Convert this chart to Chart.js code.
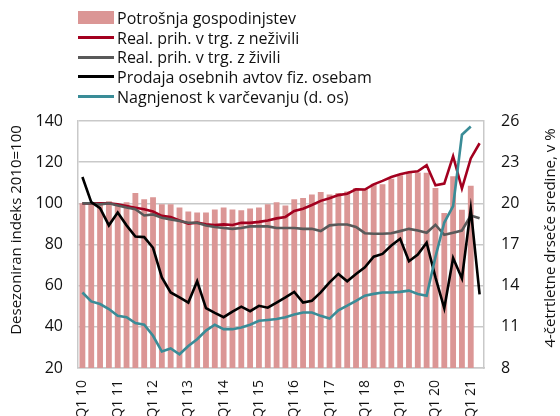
<!DOCTYPE html>
<html>
<head>
<meta charset="utf-8">
<script src="https://cdn.jsdelivr.net/npm/chart.js@4"></script>
<style>
  body { margin: 0; background: #fff; }
  #wrap { position: relative; width: 560px; height: 416px; }
  #legend { position: absolute; left: 78px; top: 8px; font-family: "Open Sans", sans-serif; font-size: 16px; color: #111; }
  .row { display: flex; align-items: center; height: 19.7px; white-space: nowrap; }
  .sym { display: inline-block; width: 36px; margin-right: 3px; }
</style>
</head>
<body>
<div id="wrap">
  <canvas id="c" width="560" height="416"></canvas>
  <div id="legend"></div>
</div>
<script>
const quarters = [
  "Q1 10", "Q2 10", "Q3 10", "Q4 10", "Q1 11", "Q2 11", "Q3 11", "Q4 11",
  "Q1 12", "Q2 12", "Q3 12", "Q4 12", "Q1 13", "Q2 13", "Q3 13", "Q4 13",
  "Q1 14", "Q2 14", "Q3 14", "Q4 14", "Q1 15", "Q2 15", "Q3 15", "Q4 15",
  "Q1 16", "Q2 16", "Q3 16", "Q4 16", "Q1 17", "Q2 17", "Q3 17", "Q4 17",
  "Q1 18", "Q2 18", "Q3 18", "Q4 18", "Q1 19", "Q2 19", "Q3 19", "Q4 19",
  "Q1 20", "Q2 20", "Q3 20", "Q4 20", "Q1 21", "Q2 21"
];

// potrosnja gospodinjstev (bars, left axis)
const potrosnja = [
  100, 100, 100, 101, 99.5, 100.5, 105, 102, 103, 99.5, 99.5, 98,
  96, 95.5, 95.5, 97, 98, 97, 96.6, 97.5, 98, 99.5, 100.5, 99,
  102, 102.6, 104.3, 105.5, 104.3, 105, 105.8, 107.5, 107, 109.5, 109.3, 112,
  113.7, 114.8, 115, 114.8, 107.5, 95.3, 113.2, 96.9, 108.5, null
];

const neZivila = [
  100, 100, 100, 100, 99.5, 98.7, 97.9, 97.1, 96, 93.9, 93.4, 91.7,
  90.1, 90.6, 89.8, 89.5, 89.8, 89.5, 90.6, 90.5, 91, 91.7, 92.7, 93.4,
  96.3, 97.4, 99.2, 101.2, 102.5, 104, 104.7, 106.8, 106.7, 109.2, 110.9, 112.8,
  114.1, 115.1, 115.6, 118.5, 108.8, 109.6, 122.9, 107.2, 121.8, 129.2
];

const zivila = [
  100, 100, 99.5, 100, 99, 98, 97.1, 94.1, 94.6, 93, 92.2, 91.4,
  90.6, 90.6, 89.2, 88.5, 88, 87.6, 88, 88.8, 88.8, 88.8, 88, 88,
  88, 87.6, 87.6, 86.5, 89.3, 89.7, 89.7, 88.5, 85.5, 85.2, 85.2, 85.5,
  86.5, 87.6, 86.8, 85.7, 89.6, 84.7, 85.7, 86.8, 94.1, 92.8
];

const avti = [
  112.8, 100.6, 97.7, 89.3, 95.5, 89.3, 83.9, 83.6, 78.4, 64, 56.7, 54.3,
  51.8, 62.1, 49.1, 46.8, 44.7, 47.4, 49.8, 47.6, 50.2, 49.3, 51.8, 54.3,
  57, 51.8, 52.7, 56.7, 61.6, 65.7, 62.1, 65.7, 68.9, 74.1, 75.4, 79.5,
  82.8, 71.9, 75.1, 80.9, 64, 49, 73.4, 63.5, 97.3, 55.8
];

// right axis, %
const varcevanje = [
  13.5, 12.85, 12.66, 12.3, 11.8, 11.7, 11.27, 11.15, 10.35, 9.2, 9.42, 9.0,
  9.6, 10.1, 10.73, 11.15, 10.83, 10.83, 10.95, 11.15, 11.44, 11.5, 11.57, 11.7,
  11.9, 12.05, 12.05, 11.8, 11.6, 12.2, 12.54, 12.9, 13.27, 13.4, 13.5, 13.5,
  13.55, 13.64, 13.4, 13.27, 16.1, 18.6, 19.8, 25.0, 25.6, null
];

const FONT = "'Open Sans', sans-serif";
const GRID = "#c9c9c9";

const legendItems = [
  { label: "Potrošnja gospodinjstev", color: "#db9695", bar: true },
  { label: "Real. prih. v trg. z neživili", color: "#a3001f" },
  { label: "Real. prih. v trg. z živili", color: "#595959" },
  { label: "Prodaja osebnih avtov fiz. osebam", color: "#000000" },
  { label: "Nagnjenost k varčevanju (d. os)", color: "#3a8c97" }
];

function buildLegend() {
  const box = document.getElementById("legend");
  legendItems.forEach((it) => {
    const row = document.createElement("div");
    row.className = "row";
    const sym = document.createElement("span");
    sym.className = "sym";
    sym.style.background = it.color;
    sym.style.height = it.bar ? "13px" : "3px";
    row.appendChild(sym);
    row.appendChild(document.createTextNode(it.label));
    box.appendChild(row);
  });
}

// axis titles, both read bottom to top
const axisTitles = {
  id: "axisTitles",
  afterDraw(chart) {
    const ctx = chart.ctx;
    ctx.save();
    ctx.fillStyle = "#111";
    ctx.font = "15px " + FONT;
    ctx.textAlign = "center";
    ctx.textBaseline = "middle";
    ctx.translate(17, 230);
    ctx.rotate(-Math.PI / 2);
    ctx.fillText("Desezoniran indeks 2010=100", 0, 0);
    ctx.restore();
    ctx.save();
    ctx.fillStyle = "#111";
    ctx.font = "15px " + FONT;
    ctx.textAlign = "center";
    ctx.textBaseline = "middle";
    ctx.translate(551, 238);
    ctx.rotate(-Math.PI / 2);
    ctx.fillText("4-četrtletne drseče sredine, v %", 0, 0);
    ctx.restore();
  }
};

function lineSet(label, data, color, order, axis) {
  return {
    type: "line",
    label,
    data,
    borderColor: color,
    backgroundColor: color,
    borderWidth: 2.6,
    pointRadius: 0,
    tension: 0,
    order,
    yAxisID: axis || "y"
  };
}

buildLegend();

new Chart(document.getElementById("c"), {
  type: "bar",
  data: {
    labels: quarters,
    datasets: [
      {
        label: "Potrošnja gospodinjstev",
        data: potrosnja,
        backgroundColor: "#db9695",
        barPercentage: 0.66,
        categoryPercentage: 1,
        order: 10,
        yAxisID: "y"
      },
      lineSet("Real. prih. v trg. z neživili", neZivila, "#a3001f", 4),
      lineSet("Real. prih. v trg. z živili", zivila, "#595959", 3),
      lineSet("Prodaja osebnih avtov fiz. osebam", avti, "#000000", 2),
      lineSet("Nagnjenost k varčevanju (d. os)", varcevanje, "#3a8c97", 1, "y1")
    ]
  },
  options: {
    responsive: false,
    devicePixelRatio: 1,
    animation: false,
    layout: { padding: { top: 121, left: 0, right: 0, bottom: 0 } },
    plugins: {
      legend: { display: false },
      tooltip: { enabled: false }
    },
    scales: {
      x: {
        grid: { display: false },
        border: { display: true, color: GRID, width: 1.5 },
        ticks: {
          autoSkip: false,
          maxRotation: 90,
          minRotation: 90,
          padding: 4,
          color: "#111",
          font: { family: FONT, size: 14 },
          callback: function (v, i) {
            const l = quarters[i];
            return l.startsWith("Q1") ? l : null;
          }
        },
        afterFit(scale) { scale.height = 48; }
      },
      y: {
        position: "left",
        min: 20,
        max: 140,
        grid: { color: GRID, lineWidth: 1.5, drawTicks: false },
        border: { display: true, color: GRID, width: 1.5 },
        ticks: {
          stepSize: 20,
          padding: 15,
          color: "#111",
          font: { family: FONT, size: 16 }
        },
        afterFit(scale) { scale.width = 78; }
      },
      y1: {
        position: "right",
        min: 8,
        max: 26,
        grid: { display: false, drawTicks: false },
        border: { display: true, color: GRID, width: 1.5 },
        ticks: {
          stepSize: 3,
          padding: 17,
          color: "#111",
          font: { family: FONT, size: 16 }
        },
        afterFit(scale) { scale.width = 76; }
      }
    }
  },
  plugins: [axisTitles]
});
</script>
</body>
</html>
